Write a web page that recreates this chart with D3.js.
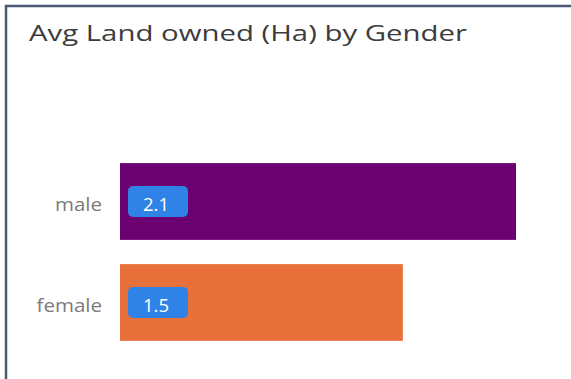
<!DOCTYPE html>
<html>
<head>
<meta charset="utf-8">
<script src="https://cdn.jsdelivr.net/npm/d3@7"></script>
<style>
  html, body { margin: 0; padding: 0; background: #ffffff; }
  svg { display: block; }
</style>
</head>
<body>
<svg id="chart" width="571" height="379"></svg>
<script>
// Average land owned (hectares) by gender
const categories = ["male", "female"];
const values = [2.1, 1.5];
const barColors = ["#6b0070", "#e8703a"];
const titleText = "Avg Land owned (Ha) by Gender";

const svg = d3.select("#chart");
const W = 571, H = 379;
const FONT = "'Open Sans', 'Noto Sans', sans-serif";

// panel frame (left and top edges visible)
svg.append("rect").attr("x", 0).attr("y", 0).attr("width", W).attr("height", H).attr("fill", "#ffffff");
svg.append("line").attr("x1", 6).attr("x2", 6).attr("y1", 5).attr("y2", H)
  .attr("stroke", "#4b5a74").attr("stroke-width", 2.5);
svg.append("line").attr("x1", 5).attr("x2", W).attr("y1", 6).attr("y2", 6)
  .attr("stroke", "#4b5a74").attr("stroke-width", 2.5);

// wide, tracked title
svg.append("text")
  .attr("x", 29).attr("y", 41)
  .attr("font-family", FONT)
  .attr("font-size", 21.5)
  .attr("font-weight", 500)
  .attr("fill", "#3c3c3c")
  .attr("textLength", 438)
  .attr("lengthAdjust", "spacingAndGlyphs")
  .text(titleText);

const x = d3.scaleLinear().domain([0, 2.1]).range([120, 516]);
const y = d3.scaleBand().domain(categories).range([151, 353])
  .paddingInner(0.24).paddingOuter(0.12);

// category labels, slightly stretched and anchored at their right edge
const yAxis = d3.axisLeft(y).tickSize(0).tickPadding(0);
const gy = svg.append("g").attr("transform", "translate(120,0)").call(yAxis);
gy.select(".domain").remove();
gy.selectAll("text")
  .attr("font-family", FONT)
  .attr("font-size", 19)
  .attr("dy", "0.52em")
  .attr("fill", "#7a7a7a")
  .attr("x", 0)
  .attr("transform", "translate(-18,0) scale(1.08,1)");

const data = categories.map((c, i) => ({ cat: c, val: values[i], color: barColors[i] }));

svg.selectAll("rect.bar").data(data).enter().append("rect")
  .attr("class", "bar")
  .attr("x", x(0))
  .attr("y", d => y(d.cat))
  .attr("width", d => x(d.val) - x(0))
  .attr("height", y.bandwidth())
  .attr("fill", d => d.color);

// value badges
const badge = svg.selectAll("g.badge").data(data).enter().append("g")
  .attr("class", "badge")
  .attr("transform", d => `translate(${x(0) + 8},${y(d.cat) + y.bandwidth() / 2 - 15.5})`);
badge.append("rect")
  .attr("width", 60).attr("height", 31).attr("rx", 5)
  .attr("fill", "#2f82e6");
badge.append("text")
  .attr("x", 28).attr("y", 24.5)
  .attr("text-anchor", "middle")
  .attr("font-family", FONT)
  .attr("font-size", 18.5)
  .attr("font-weight", 500)
  .attr("fill", "#ffffff")
  .text(d => d3.format(".1f")(d.val));
</script>
</body>
</html>
